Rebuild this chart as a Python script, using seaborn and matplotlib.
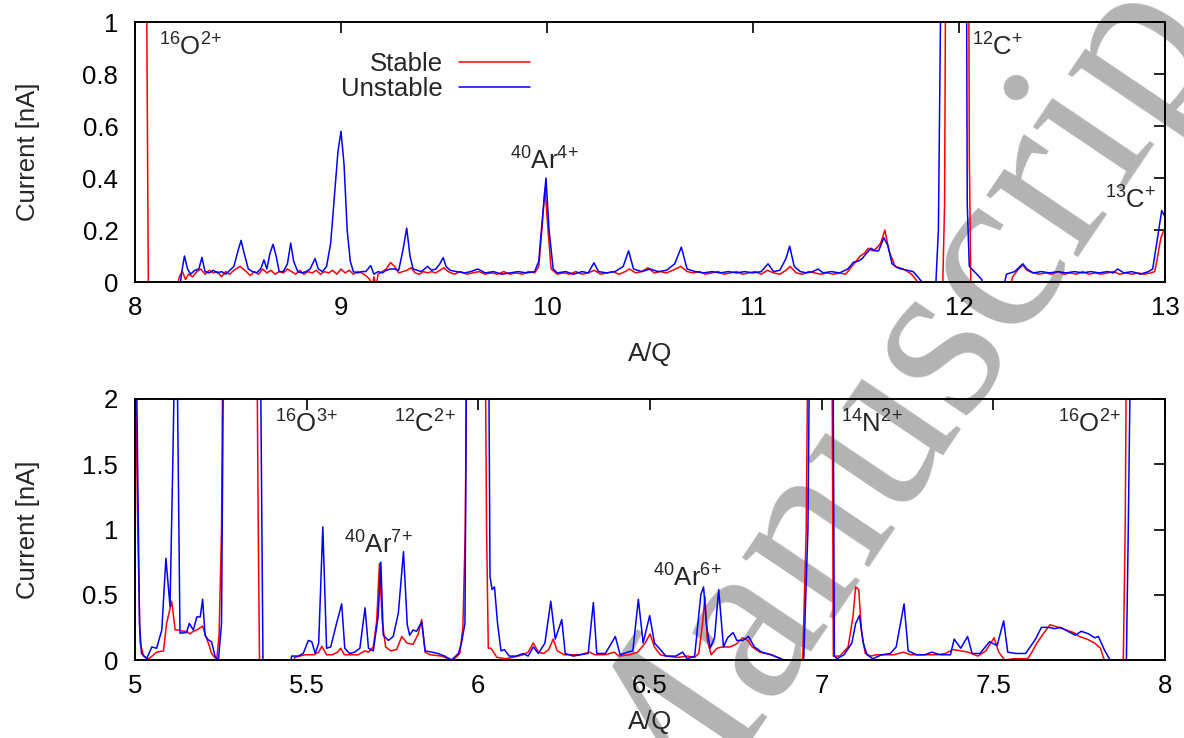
import pandas as pd
import matplotlib
matplotlib.use('Agg')
import matplotlib.pyplot as plt
import seaborn as sns

# Spectra: (A/Q, current in nA).
# Values above the y range or below zero are just clipped by the axes.
top_stable = [
    (8.00, 3.0), (8.05, 2.0), (8.065, -0.05), (8.20, -0.05), (8.215, 0.02), (8.23, 0.04), (8.245, 0.01),
    (8.26, 0.03), (8.28, 0.02), (8.30, 0.04), (8.32, 0.05), (8.34, 0.03), (8.36, 0.045), (8.38, 0.035),
    (8.40, 0.04), (8.42, 0.02), (8.44, 0.04), (8.46, 0.03), (8.48, 0.045), (8.51, 0.06), (8.54, 0.04),
    (8.56, 0.025), (8.58, 0.04), (8.60, 0.03), (8.62, 0.05), (8.64, 0.035), (8.66, 0.045), (8.68, 0.03),
    (8.70, 0.04), (8.72, 0.035), (8.74, 0.05), (8.76, 0.04), (8.78, 0.03), (8.80, 0.045), (8.82, 0.03),
    (8.84, 0.04), (8.86, 0.035), (8.88, 0.045), (8.90, 0.03), (8.92, 0.04), (8.94, 0.035), (8.96, 0.045),
    (8.98, 0.03), (9.00, 0.05), (9.02, 0.035), (9.04, 0.045), (9.06, 0.03), (9.08, 0.04), (9.10, 0.035),
    (9.12, 0.025), (9.14, 0.01), (9.15, -0.02), (9.16, 0.02), (9.17, -0.02), (9.18, 0.03), (9.20, 0.04),
    (9.22, 0.05), (9.24, 0.075), (9.26, 0.06), (9.28, 0.035), (9.30, 0.04), (9.32, 0.045), (9.34, 0.055),
    (9.36, 0.035), (9.38, 0.03), (9.40, 0.04), (9.42, 0.035), (9.44, 0.04), (9.46, 0.035), (9.48, 0.045),
    (9.50, 0.055), (9.52, 0.04), (9.55, 0.03), (9.58, 0.04), (9.61, 0.03), (9.64, 0.035), (9.67, 0.04),
    (9.70, 0.03), (9.73, 0.035), (9.76, 0.03), (9.79, 0.04), (9.82, 0.03), (9.85, 0.035), (9.88, 0.03),
    (9.91, 0.04), (9.94, 0.035), (9.96, 0.06), (9.975, 0.2), (9.99, 0.36), (10.005, 0.2), (10.02, 0.05),
    (10.05, 0.03), (10.08, 0.035), (10.11, 0.03), (10.14, 0.04), (10.17, 0.03), (10.20, 0.035), (10.23, 0.045),
    (10.26, 0.03), (10.29, 0.035), (10.32, 0.04), (10.35, 0.03), (10.38, 0.04), (10.40, 0.05), (10.43, 0.035),
    (10.46, 0.04), (10.49, 0.055), (10.52, 0.035), (10.55, 0.04), (10.58, 0.035), (10.61, 0.045), (10.65, 0.06),
    (10.68, 0.04), (10.71, 0.035), (10.74, 0.04), (10.77, 0.03), (10.80, 0.035), (10.83, 0.04), (10.86, 0.03),
    (10.89, 0.035), (10.92, 0.04), (10.95, 0.03), (10.98, 0.035), (11.01, 0.04), (11.04, 0.03), (11.07, 0.045),
    (11.10, 0.035), (11.13, 0.03), (11.16, 0.045), (11.18, 0.06), (11.21, 0.035), (11.24, 0.03), (11.27, 0.04),
    (11.30, 0.035), (11.33, 0.03), (11.36, 0.035), (11.39, 0.03), (11.42, 0.035), (11.45, 0.03), (11.48, 0.06),
    (11.50, 0.08), (11.52, 0.1), (11.54, 0.11), (11.56, 0.13), (11.58, 0.12), (11.60, 0.13), (11.62, 0.15),
    (11.64, 0.2), (11.66, 0.12), (11.69, 0.06), (11.73, 0.05), (11.77, 0.03), (11.80, 0.0), (11.81, -0.05),
    (11.92, -0.05), (11.93, 0.3), (11.945, 3.0), (12.04, 3.0), (12.05, 0.5), (12.058, -0.05), (12.24, -0.05),
    (12.26, 0.02), (12.29, 0.05), (12.31, 0.065), (12.33, 0.045), (12.36, 0.035), (12.39, 0.03), (12.42, 0.035),
    (12.45, 0.03), (12.48, 0.04), (12.51, 0.03), (12.54, 0.035), (12.57, 0.03), (12.60, 0.04), (12.63, 0.03),
    (12.66, 0.035), (12.69, 0.03), (12.72, 0.035), (12.75, 0.04), (12.78, 0.03), (12.81, 0.035), (12.84, 0.03),
    (12.87, 0.035), (12.90, 0.03), (12.93, 0.035), (12.95, 0.04), (12.96, 0.08), (12.98, 0.17), (13.00, 0.21),
]

top_unstable = [
    (8.00, -0.05), (8.215, -0.05), (8.225, 0.03), (8.24, 0.10), (8.255, 0.05), (8.27, 0.03), (8.29, 0.045),
    (8.31, 0.05), (8.325, 0.095), (8.34, 0.04), (8.36, 0.035), (8.38, 0.045), (8.40, 0.035), (8.42, 0.04),
    (8.44, 0.03), (8.46, 0.045), (8.48, 0.06), (8.50, 0.12), (8.515, 0.16), (8.53, 0.11), (8.55, 0.05),
    (8.57, 0.04), (8.59, 0.035), (8.61, 0.05), (8.626, 0.085), (8.64, 0.05), (8.655, 0.11), (8.67, 0.145),
    (8.685, 0.10), (8.70, 0.04), (8.72, 0.04), (8.74, 0.07), (8.756, 0.15), (8.77, 0.08), (8.79, 0.04),
    (8.81, 0.035), (8.83, 0.04), (8.85, 0.05), (8.874, 0.09), (8.89, 0.05), (8.91, 0.04), (8.93, 0.06),
    (8.95, 0.15), (8.97, 0.35), (8.985, 0.50), (9.00, 0.58), (9.015, 0.45), (9.03, 0.2), (9.045, 0.08),
    (9.06, 0.04), (9.08, 0.035), (9.10, 0.04), (9.12, 0.04), (9.144, 0.063), (9.16, 0.03), (9.18, 0.04),
    (9.20, 0.035), (9.22, 0.045), (9.24, 0.05), (9.26, 0.05), (9.28, 0.045), (9.30, 0.12), (9.319, 0.207),
    (9.335, 0.10), (9.35, 0.05), (9.37, 0.045), (9.39, 0.04), (9.42, 0.06), (9.44, 0.045), (9.46, 0.05),
    (9.48, 0.07), (9.496, 0.094), (9.51, 0.06), (9.53, 0.045), (9.56, 0.04), (9.60, 0.035), (9.63, 0.04),
    (9.665, 0.05), (9.70, 0.035), (9.74, 0.04), (9.78, 0.03), (9.82, 0.035), (9.86, 0.04), (9.90, 0.035),
    (9.94, 0.04), (9.96, 0.08), (9.975, 0.22), (9.995, 0.40), (10.01, 0.2), (10.03, 0.05), (10.05, 0.035),
    (10.09, 0.04), (10.13, 0.03), (10.17, 0.04), (10.20, 0.035), (10.228, 0.074), (10.25, 0.04), (10.29, 0.035),
    (10.33, 0.04), (10.37, 0.06), (10.396, 0.12), (10.42, 0.05), (10.46, 0.04), (10.50, 0.05), (10.54, 0.04),
    (10.58, 0.045), (10.62, 0.07), (10.652, 0.134), (10.68, 0.05), (10.72, 0.04), (10.76, 0.035), (10.80, 0.04),
    (10.84, 0.035), (10.88, 0.04), (10.92, 0.035), (10.96, 0.04), (11.00, 0.035), (11.04, 0.04), (11.073, 0.07),
    (11.10, 0.04), (11.13, 0.045), (11.16, 0.09), (11.178, 0.138), (11.20, 0.06), (11.23, 0.04), (11.26, 0.035),
    (11.29, 0.04), (11.316, 0.05), (11.34, 0.035), (11.38, 0.04), (11.42, 0.035), (11.46, 0.05), (11.488, 0.076),
    (11.51, 0.08), (11.53, 0.09), (11.55, 0.11), (11.573, 0.13), (11.59, 0.12), (11.61, 0.12), (11.635, 0.17),
    (11.655, 0.14), (11.675, 0.07), (11.70, 0.055), (11.72, 0.05), (11.75, 0.045), (11.777, 0.04), (11.80, 0.02),
    (11.82, 0.0), (11.84, -0.05), (11.885, -0.05), (11.90, 0.2), (11.935, 3.0), (12.03, 3.0), (12.04, 0.3),
    (12.05, 0.06), (12.083, 0.033), (12.11, 0.01), (12.13, -0.05), (12.21, -0.05), (12.23, 0.03), (12.27, 0.04),
    (12.31, 0.07), (12.33, 0.05), (12.36, 0.035), (12.40, 0.04), (12.44, 0.035), (12.48, 0.04), (12.52, 0.035),
    (12.56, 0.04), (12.60, 0.035), (12.64, 0.04), (12.68, 0.035), (12.72, 0.04), (12.75, 0.035), (12.77, 0.05),
    (12.80, 0.035), (12.84, 0.04), (12.88, 0.03), (12.92, 0.04), (12.94, 0.05), (12.96, 0.15), (12.984, 0.275),
    (13.00, 0.25),
]

bottom_stable = [
    (5.00, 2.5), (5.008, 1.0), (5.015, 0.13), (5.025, 0.03), (5.04, 0.01), (5.05, 0.03), (5.063, 0.06),
    (5.083, 0.07), (5.092, 0.28), (5.107, 0.45), (5.117, 0.23), (5.127, 0.23), (5.14, 0.22), (5.15, 0.22),
    (5.16, 0.20), (5.17, 0.22), (5.18, 0.23), (5.197, 0.26), (5.205, 0.19), (5.215, 0.12), (5.223, 0.05),
    (5.238, 0.0), (5.245, 0.2), (5.252, 1.0), (5.256, 2.5), (5.355, 2.5), (5.359, 1.0), (5.363, -0.1),
    (5.46, -0.1), (5.465, 0.02), (5.48, 0.03), (5.495, 0.04), (5.52, 0.04), (5.535, 0.06), (5.544, 0.105),
    (5.558, 0.04), (5.575, 0.04), (5.59, 0.06), (5.599, 0.09), (5.61, 0.04), (5.63, 0.04), (5.65, 0.04),
    (5.67, 0.07), (5.68, 0.06), (5.694, 0.10), (5.704, 0.3), (5.712, 0.74), (5.72, 0.3), (5.73, 0.10),
    (5.745, 0.07), (5.762, 0.08), (5.777, 0.18), (5.792, 0.13), (5.81, 0.12), (5.825, 0.2), (5.835, 0.31),
    (5.845, 0.06), (5.86, 0.04), (5.893, 0.03), (5.922, 0.0), (5.935, 0.02), (5.946, 0.05), (5.955, 0.25),
    (5.962, 1.0), (5.966, 2.5), (6.02, 2.5), (6.024, 1.0), (6.029, 0.09), (6.037, 0.09), (6.054, 0.02),
    (6.08, 0.01), (6.10, 0.02), (6.131, 0.04), (6.145, 0.06), (6.16, 0.13), (6.175, 0.06), (6.19, 0.05),
    (6.205, 0.08), (6.218, 0.16), (6.23, 0.07), (6.25, 0.04), (6.28, 0.04), (6.296, 0.04), (6.324, 0.06),
    (6.34, 0.04), (6.37, 0.04), (6.396, 0.06), (6.41, 0.03), (6.44, 0.04), (6.464, 0.06), (6.486, 0.13),
    (6.50, 0.20), (6.513, 0.10), (6.53, 0.04), (6.546, 0.03), (6.58, 0.02), (6.61, 0.03), (6.63, 0.02),
    (6.642, 0.05), (6.653, 0.28), (6.66, 0.485), (6.667, 0.15), (6.678, 0.04), (6.695, 0.09), (6.711, 0.10),
    (6.733, 0.10), (6.75, 0.12), (6.77, 0.17), (6.785, 0.15), (6.798, 0.10), (6.82, 0.06), (6.853, 0.04),
    (6.881, 0.01), (6.892, 0.0), (6.90, -0.1), (6.94, -0.1), (6.945, 0.02), (6.955, 1.0), (6.96, 2.5),
    (7.03, 2.5), (7.034, 0.03), (7.053, 0.03), (7.077, 0.10), (7.091, 0.33), (7.099, 0.56), (7.108, 0.54),
    (7.116, 0.22), (7.127, 0.05), (7.143, 0.03), (7.16, 0.04), (7.178, 0.04), (7.21, 0.04), (7.238, 0.06),
    (7.26, 0.04), (7.30, 0.04), (7.335, 0.04), (7.36, 0.05), (7.383, 0.08), (7.405, 0.07), (7.427, 0.06),
    (7.455, 0.03), (7.478, 0.07), (7.502, 0.17), (7.516, 0.06), (7.533, 0.0), (7.56, 0.01), (7.60, 0.01),
    (7.61, 0.05), (7.627, 0.13), (7.645, 0.20), (7.665, 0.27), (7.69, 0.25), (7.712, 0.23), (7.734, 0.21),
    (7.751, 0.18), (7.773, 0.16), (7.795, 0.13), (7.812, 0.09), (7.823, 0.0), (7.83, -0.1), (7.878, -0.1),
    (7.884, 1.0), (7.888, 2.5), (8.00, 2.5),
]

bottom_unstable = [
    (5.00, 2.5), (5.005, 2.1), (5.013, 0.28), (5.019, 0.05), (5.034, 0.01), (5.049, 0.10), (5.063, 0.09),
    (5.078, 0.23), (5.09, 0.78), (5.102, 0.41), (5.11, 1.5), (5.1165, 2.5), (5.122, 2.5), (5.131, 0.206),
    (5.15, 0.21), (5.158, 0.28), (5.17, 0.23), (5.18, 0.33), (5.19, 0.33), (5.197, 0.465), (5.204, 0.19),
    (5.213, 0.155), (5.223, 0.14), (5.233, 0.03), (5.243, 0.0), (5.252, 0.28), (5.258, 2.5), (5.365, 2.5),
    (5.371, 0.5), (5.373, -0.1), (5.45, -0.1), (5.456, 0.03), (5.475, 0.03), (5.49, 0.05), (5.505, 0.15),
    (5.515, 0.14), (5.525, 0.05), (5.535, 0.13), (5.547, 1.02), (5.558, 0.09), (5.57, 0.10), (5.587, 0.28),
    (5.602, 0.43), (5.611, 0.09), (5.625, 0.05), (5.64, 0.06), (5.655, 0.09), (5.67, 0.40), (5.68, 0.09),
    (5.694, 0.07), (5.708, 0.33), (5.716, 0.75), (5.723, 0.19), (5.738, 0.15), (5.752, 0.18), (5.767, 0.36),
    (5.782, 0.83), (5.793, 0.27), (5.80, 0.19), (5.81, 0.23), (5.82, 0.22), (5.835, 0.29), (5.845, 0.07),
    (5.865, 0.06), (5.882, 0.05), (5.902, 0.03), (5.922, 0.0), (5.942, 0.05), (5.951, 0.13), (5.961, 0.28),
    (5.966, 2.5), (6.03, 2.5), (6.034, 0.64), (6.04, 0.54), (6.047, 0.56), (6.056, 0.28), (6.066, 0.07),
    (6.076, 0.08), (6.09, 0.03), (6.11, 0.03), (6.131, 0.05), (6.145, 0.03), (6.16, 0.10), (6.175, 0.05),
    (6.194, 0.13), (6.211, 0.45), (6.224, 0.16), (6.243, 0.31), (6.253, 0.05), (6.277, 0.03), (6.296, 0.04),
    (6.32, 0.05), (6.335, 0.44), (6.345, 0.05), (6.37, 0.05), (6.399, 0.18), (6.413, 0.04), (6.435, 0.06),
    (6.45, 0.07), (6.466, 0.465), (6.48, 0.13), (6.499, 0.34), (6.513, 0.13), (6.53, 0.08), (6.546, 0.03),
    (6.575, 0.03), (6.595, 0.06), (6.608, 0.01), (6.63, 0.03), (6.648, 0.50), (6.656, 0.56), (6.664, 0.28),
    (6.675, 0.09), (6.688, 0.17), (6.70, 0.54), (6.714, 0.10), (6.726, 0.17), (6.742, 0.21), (6.753, 0.15),
    (6.77, 0.15), (6.787, 0.18), (6.804, 0.10), (6.826, 0.06), (6.853, 0.04), (6.881, 0.01), (6.903, -0.1),
    (6.943, -0.1), (6.948, 0.03), (6.96, 1.0), (6.965, 2.5), (7.033, 2.5), (7.037, 0.03), (7.045, 0.01),
    (7.065, 0.04), (7.088, 0.13), (7.099, 0.28), (7.11, 0.34), (7.121, 0.13), (7.132, 0.04), (7.149, 0.01),
    (7.175, 0.04), (7.20, 0.05), (7.217, 0.10), (7.24, 0.43), (7.252, 0.07), (7.276, 0.04), (7.30, 0.04),
    (7.321, 0.06), (7.345, 0.04), (7.375, 0.04), (7.386, 0.16), (7.405, 0.09), (7.425, 0.18), (7.438, 0.05),
    (7.461, 0.05), (7.489, 0.14), (7.511, 0.11), (7.53, 0.30), (7.542, 0.06), (7.566, 0.05), (7.594, 0.05),
    (7.623, 0.16), (7.64, 0.25), (7.662, 0.25), (7.679, 0.24), (7.696, 0.25), (7.717, 0.22), (7.739, 0.19),
    (7.756, 0.22), (7.778, 0.20), (7.795, 0.17), (7.806, 0.18), (7.823, 0.08), (7.84, 0.0), (7.845, -0.1),
    (7.887, -0.1), (7.893, 1.0), (7.90, 2.5), (8.00, 2.5),
]

series_names = ['Stable', 'Unstable']
series_colors = {'Stable': '#ff0000', 'Unstable': '#0000ff'}

top_ticks_x = [8, 9, 10, 11, 12, 13]
top_ticks_y = [0, 0.2, 0.4, 0.6, 0.8, 1]
top_ticklabels_y = ['0', '0.2', '0.4', '0.6', '0.8', '1']
bottom_ticks_x = [5, 5.5, 6, 6.5, 7, 7.5, 8]
bottom_ticklabels_x = ['5', '5.5', '6', '6.5', '7', '7.5', '8']
bottom_ticks_y = [0, 0.5, 1, 1.5, 2]
bottom_ticklabels_y = ['0', '0.5', '1', '1.5', '2']

# peak labels: (text, x, y) in data coordinates
top_labels = [
    (r'$^{16}$O$^{2\!+}$', 8.27, 0.905),
    (r'$^{40}$Ar$^{4\!+}$', 9.99, 0.465),
    (r'$^{12}$C$^{+}$', 12.19, 0.905),
    (r'$^{13}$C$^{+}$', 12.835, 0.315),
]
bottom_labels = [
    (r'$^{16}$O$^{3\!+}$', 5.50, 1.81),
    (r'$^{12}$C$^{2\!+}$', 5.845, 1.81),
    (r'$^{40}$Ar$^{7\!+}$', 5.708, 0.88),
    (r'$^{40}$Ar$^{6\!+}$', 6.608, 0.63),
    (r'$^{14}$N$^{2\!+}$', 7.147, 1.81),
    (r'$^{16}$O$^{2\!+}$', 7.78, 1.81),
]


def to_frame(stable, unstable):
    parts = []
    for name, pts in zip(series_names, [stable, unstable]):
        d = pd.DataFrame(pts, columns=['aq', 'current'])
        d['series'] = name
        parts.append(d)
    return pd.concat(parts, ignore_index=True)


df_top = to_frame(top_stable, top_unstable)
df_bottom = to_frame(bottom_stable, bottom_unstable)

sns.set_style('white')
plt.rcParams['font.family'] = ['Liberation Sans', 'DejaVu Sans']
plt.rcParams['mathtext.fontset'] = 'custom'
plt.rcParams['mathtext.rm'] = 'Liberation Sans'
plt.rcParams['mathtext.it'] = 'Liberation Sans:italic'
plt.rcParams['mathtext.default'] = 'regular'

FS = 18.5
W, H = 1184, 738
fig = plt.figure(figsize=(W / 100, H / 100), dpi=100)
fig.patch.set_facecolor('white')

# grey diagonal watermark, drawn below the axes
fig.text(0.765, 0.46, 'Manuscript', rotation=56, fontsize=172, family='Liberation Serif',
         color='#b3b3b3', ha='center', va='center', zorder=-1, rotation_mode='anchor')

ax1 = fig.add_axes([135 / W, 1 - 282 / H, 1030 / W, 260 / H])
ax2 = fig.add_axes([135 / W, 1 - 660 / H, 1030 / W, 261 / H])

sns.lineplot(data=df_top, x='aq', y='current', hue='series', palette=series_colors,
             estimator=None, sort=False, lw=1.1, ax=ax1)
sns.lineplot(data=df_bottom, x='aq', y='current', hue='series', palette=series_colors,
             estimator=None, sort=False, lw=1.1, ax=ax2, legend=False)

ax1.set_xlim(8, 13)
ax1.set_ylim(0, 1)
ax1.set_xticks(top_ticks_x)
ax1.set_xticklabels([str(t) for t in top_ticks_x])
ax1.set_yticks(top_ticks_y)
ax1.set_yticklabels(top_ticklabels_y)

ax2.set_xlim(5, 8)
ax2.set_ylim(0, 2)
ax2.set_xticks(bottom_ticks_x)
ax2.set_xticklabels(bottom_ticklabels_x)
ax2.set_yticks(bottom_ticks_y)
ax2.set_yticklabels(bottom_ticklabels_y)

for ax in (ax1, ax2):
    ax.patch.set_alpha(0)
    for s in ax.spines.values():
        s.set_color('black')
        s.set_linewidth(1.4)
    ax.tick_params(direction='in', top=True, right=True, length=8, width=1.2,
                   labelsize=FS, pad=10, colors='black')
    ax.tick_params(axis='y', pad=12)
    ax.set_xlabel('A/Q', fontsize=FS)
    ax.set_ylabel('Current [nA]', fontsize=FS)
    ax.yaxis.set_label_coords(-0.092, 0.5)

ax1.xaxis.set_label_coords(0.5, -0.23)
ax2.xaxis.set_label_coords(0.5, -0.19)

handles, labels = ax1.get_legend_handles_labels()
ax1.legend(handles, labels, loc='upper right', bbox_to_anchor=(0.3835, 0.885), frameon=False,
           markerfirst=False, fontsize=FS, handlelength=2.75, handletextpad=0.65,
           labelspacing=0.05, borderpad=0, borderaxespad=0)

for txt, x, y in top_labels:
    ax1.text(x, y, txt, fontsize=FS, ha='center', va='center')
for txt, x, y in bottom_labels:
    ax2.text(x, y, txt, fontsize=FS, ha='center', va='center')

fig.savefig('out.png', dpi=100)
